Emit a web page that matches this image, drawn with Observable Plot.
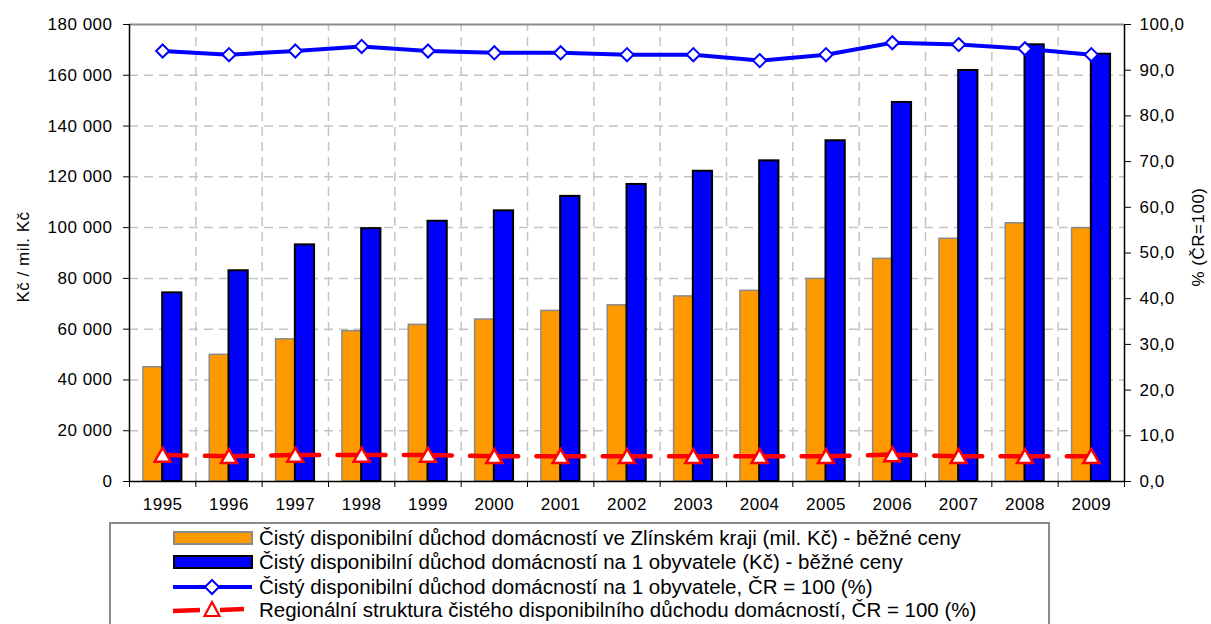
<!DOCTYPE html>
<html>
<head>
<meta charset="utf-8">
<script src="https://cdn.jsdelivr.net/npm/d3@7"></script>
<script src="https://cdn.jsdelivr.net/npm/@observablehq/plot@0.6"></script>
<style>
  html, body { margin: 0; padding: 0; background: #fff; }
  body { width: 1211px; height: 624px; overflow: hidden; position: relative; font-family: "Liberation Sans", Arial, sans-serif; }
  #chart svg { display: block; }
  #chart svg text { letter-spacing: 0.5px; }
  #legend { position: absolute; left: 109px; top: 522px; width: 941px; height: 120px; border: 2px solid #8c8c8c; box-sizing: border-box; }
  .row { position: absolute; left: 0; height: 22px; display: flex; align-items: center; }
  .row svg { margin-left: 61px; width: 82px; height: 22px; display: block; flex: none; }
  .row span { margin-left: 5px; font-size: 20.5px; color: #000; white-space: nowrap; }
</style>
</head>
<body>
<div id="chart"></div>
<div id="legend"></div>
<script>
// ---- data ----
const years = [1995, 1996, 1997, 1998, 1999, 2000, 2001, 2002, 2003, 2004, 2005, 2006, 2007, 2008, 2009];
const incomeRegion = [45000, 49900, 56000, 59200, 61700, 63800, 67200, 69400, 72900, 75100, 79800, 87700, 95600, 101700, 99800];
const incomePerCapita = [74300, 83000, 93200, 99600, 102500, 106600, 112300, 117000, 122200, 126300, 134200, 149300, 161900, 172000, 168300];
const perCapitaIndex = [94.2, 93.4, 94.2, 95.2, 94.2, 93.8, 93.8, 93.4, 93.4, 92.1, 93.4, 96.0, 95.6, 94.7, 93.4];
const regionalShare = [5.8, 5.5, 5.8, 5.8, 5.8, 5.5, 5.5, 5.5, 5.5, 5.5, 5.5, 5.9, 5.5, 5.5, 5.5];
const leftTicks = [0, 20000, 40000, 60000, 80000, 100000, 120000, 140000, 160000, 180000];
const rightTicks = [0, 10, 20, 30, 40, 50, 60, 70, 80, 90, 100];
const seriesNames = [
  "Čistý disponibilní důchod domácností ve Zlínském kraji (mil. Kč) - běžné ceny",
  "Čistý disponibilní důchod domácností na 1 obyvatele (Kč) - běžné ceny",
  "Čistý disponibilní důchod domácností na 1 obyvatele, ČR = 100 (%)",
  "Regionální struktura čistého disponibilního důchodu domácností, ČR = 100 (%)"
];
const leftTitle = "Kč / mil. Kč";
const rightTitle = "% (ČR=100)";

// right axis (0–100 %) mapped onto the left scale (0–180 000)
const pctFactor = 180000 / 100;
const half = 0.5;
const barW = 0.29;

const rows = years.map((year, i) => ({
  year,
  region: incomeRegion[i],
  perCapita: incomePerCapita[i],
  index: perCapitaIndex[i] * pctFactor,
  share: regionalShare[i] * pctFactor
}));
const inner = years.slice(1).map(y => y - half);
const bounds = [years[0] - half, ...inner, years[years.length - 1] + half];

const loc = d3.formatLocale({decimal: ",", thousands: " ", grouping: [3], currency: ["", ""]});
const fmtLeft = loc.format(",.0f");
const fmtRight = d => (d / pctFactor).toFixed(1).replace(".", ",");

const ORANGE = "#ff9900", BLUE = "#0000ff", RED = "#ff0000";
const GRID = "#c4c4c4";

const plot = Plot.plot({
  width: 1211,
  height: 521,
  marginLeft: 129,
  marginRight: 87,
  marginTop: 24,
  marginBottom: 40,
  x: {type: "linear", domain: [bounds[0], bounds[bounds.length - 1]]},
  y: {domain: [0, 180000]},
  style: {fontFamily: "'Liberation Sans', Arial, sans-serif", fontSize: "17px", color: "#000", background: "#fff", overflow: "visible"},
  marks: [
    // grid
    Plot.ruleY(leftTicks.slice(1, -1), {stroke: GRID, strokeWidth: 1.5, strokeDasharray: "9,6"}),
    Plot.ruleX(inner, {y1: 0, y2: 180000, stroke: GRID, strokeWidth: 1.5, strokeDasharray: "9,6"}),
    // bars
    Plot.rectY(rows, {x1: d => d.year - barW, x2: d => d.year, y: "region", fill: ORANGE, stroke: "#8a8a8a", strokeWidth: 1.5}),
    Plot.rectY(rows, {x1: d => d.year, x2: d => d.year + barW, y: "perCapita", fill: BLUE, stroke: "#000", strokeWidth: 2}),
    // frame
    Plot.ruleY([180000], {stroke: "#8c8c8c", strokeWidth: 2}),
    Plot.ruleY([0], {stroke: "#000", strokeWidth: 1.5}),
    Plot.ruleX([bounds[0]], {y1: 0, y2: 180000, stroke: "#000", strokeWidth: 1.5}),
    Plot.ruleX([bounds[bounds.length - 1]], {y1: 0, y2: 180000, stroke: "#000", strokeWidth: 1.5}),
    // axes
    Plot.axisY(leftTicks, {anchor: "left", tickSize: 6, tickPadding: 11, tickFormat: fmtLeft, label: null, fontSize: 17}),
    Plot.axisY(rightTicks.map(d => d * pctFactor), {anchor: "right", tickSize: 6, tickPadding: 9, tickFormat: fmtRight, label: null, fontSize: 17}),
    Plot.axisX(bounds, {anchor: "bottom", tickSize: 6, tickFormat: () => "", label: null}),
    Plot.axisX(years, {anchor: "bottom", tickSize: 0, tickPadding: 16, tickFormat: d => String(d), label: null, fontSize: 17}),
    // axis titles
    Plot.text([leftTitle], {frameAnchor: "left", textAnchor: "middle", dx: -106, dy: 4, rotate: -90, text: d => d, fontSize: 17}),
    Plot.text([rightTitle], {frameAnchor: "right", textAnchor: "middle", dx: 74, dy: -16, rotate: -90, text: d => d, fontSize: 17}),
    // lines
    Plot.line(rows, {x: "year", y: "share", stroke: RED, strokeWidth: 4.5, strokeDasharray: "48,18.3", strokeDashoffset: 24}),
    Plot.dot(rows, {x: "year", y: "share", symbol: "triangle", r: 6, fill: "#fff", stroke: RED, strokeWidth: 2.5, dy: 2}),
    Plot.line(rows, {x: "year", y: "index", stroke: BLUE, strokeWidth: 4}),
    Plot.dot(rows, {x: "year", y: "index", symbol: "diamond2", r: 5.9, fill: "#fff", stroke: BLUE, strokeWidth: 2})
  ]
});
document.getElementById("chart").appendChild(plot);

// ---- legend ----
const swatches = [
  `<rect x="2" y="5" width="78" height="12" fill="${ORANGE}" stroke="#8a8a8a" stroke-width="2"/>`,
  `<rect x="2" y="5" width="78" height="12" fill="${BLUE}" stroke="#000" stroke-width="2"/>`,
  `<line x1="1" y1="11" x2="80" y2="11" stroke="${BLUE}" stroke-width="4"/><path d="M40,4 L47,11 L40,18 L33,11 Z" fill="#fff" stroke="${BLUE}" stroke-width="2"/>`,
  `<line x1="1" y1="12" x2="28" y2="11" stroke="${RED}" stroke-width="4.5"/><line x1="48" y1="11" x2="72" y2="10" stroke="${RED}" stroke-width="4.5"/><path d="M40,3 L47.5,17 L32.5,17 Z" fill="#fff" stroke="${RED}" stroke-width="2.2"/>`
];
const rowTops = [3, 27, 52, 75];
const legend = document.getElementById("legend");
seriesNames.forEach((name, i) => {
  const r = document.createElement("div");
  r.className = "row";
  r.style.top = rowTops[i] + "px";
  r.innerHTML = `<svg viewBox="0 0 82 22">${swatches[i]}</svg><span>${name}</span>`;
  legend.appendChild(r);
});
</script>
</body>
</html>
